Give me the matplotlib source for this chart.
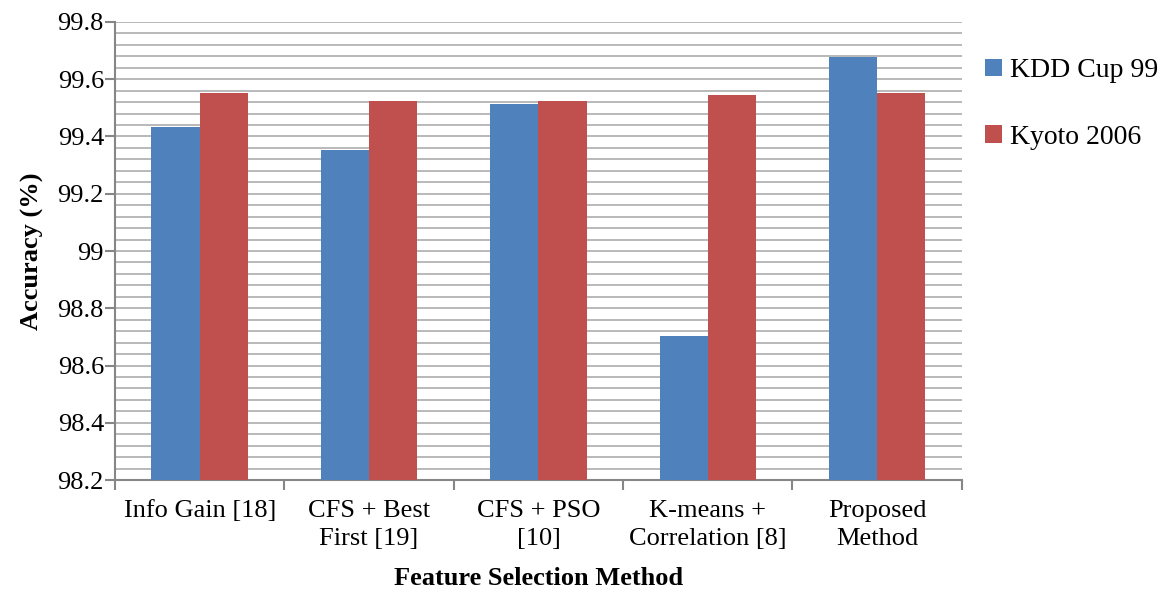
#!/usr/bin/env python3
import matplotlib.pyplot as plt
import numpy as np

methods = ['Info Gain [18]', 'CFS + Best\nFirst [19]', 'CFS + PSO\n[10]',
           'K-means +\nCorrelation [8]', 'Proposed\nMethod']
kdd = [99.433, 99.353, 99.514, 98.703, 99.677]
kyoto = [99.552, 99.524, 99.524, 99.546, 99.552]
series_names = ['KDD Cup 99', 'Kyoto 2006']
colors = ['#4f81bd', '#c0504d']


def main():
    plt.rcParams['font.family'] = ['Liberation Serif', 'DejaVu Serif']
    fig = plt.figure(figsize=(11.68, 5.92), dpi=100)
    ax = fig.add_axes([0.0985, 0.189, 0.725, 0.774])

    x = np.arange(len(methods))
    w = 0.285
    ax.bar(x - w / 2, np.array(kdd) - 98.2, w, bottom=98.2, color=colors[0],
           label=series_names[0], zorder=3)
    ax.bar(x + w / 2, np.array(kyoto) - 98.2, w, bottom=98.2, color=colors[1],
           label=series_names[1], zorder=3)

    ax.set_xlim(-0.5, len(methods) - 0.5)
    ax.set_ylim(98.2, 99.8)
    ax.set_yticks(np.arange(98.2, 99.81, 0.2))
    ax.set_yticklabels(['98.2', '98.4', '98.6', '98.8', '99', '99.2', '99.4', '99.6', '99.8'])
    ax.set_yticks(np.arange(98.2, 99.81, 0.04), minor=True)
    ax.tick_params(axis='y', which='minor', length=0)
    ax.grid(axis='y', which='both', color='#b3b3b3', linewidth=1.3, zorder=0)

    ax.set_xticks(np.arange(-0.5, len(methods), 1.0))
    ax.set_xticklabels([])
    ax.set_xticks(x, minor=True)
    ax.set_xticklabels(methods, minor=True, linespacing=1.4)
    ax.tick_params(axis='both', which='major', length=7, width=1.5, color='#868686')
    ax.tick_params(axis='y', which='major', labelsize=19, pad=1)
    ax.tick_params(axis='x', which='minor', length=0, pad=14, labelsize=19)

    for s in ['top', 'right']:
        ax.spines[s].set_visible(False)
    for s in ['left', 'bottom']:
        ax.spines[s].set_color('#868686')
        ax.spines[s].set_linewidth(1.5)

    ax.set_ylabel('Accuracy (%)', fontsize=19, fontweight='bold', labelpad=10)
    ax.set_xlabel('Feature Selection Method', fontsize=19, fontweight='bold', labelpad=12)

    ax.legend(loc='upper left', bbox_to_anchor=(0.998, 0.975), frameon=False,
              fontsize=20, handlelength=0.6, handleheight=0.6, handletextpad=0.3,
              labelspacing=1.5)

    fig.savefig('out.png', dpi=100)


if __name__ == "__main__":
    main()
